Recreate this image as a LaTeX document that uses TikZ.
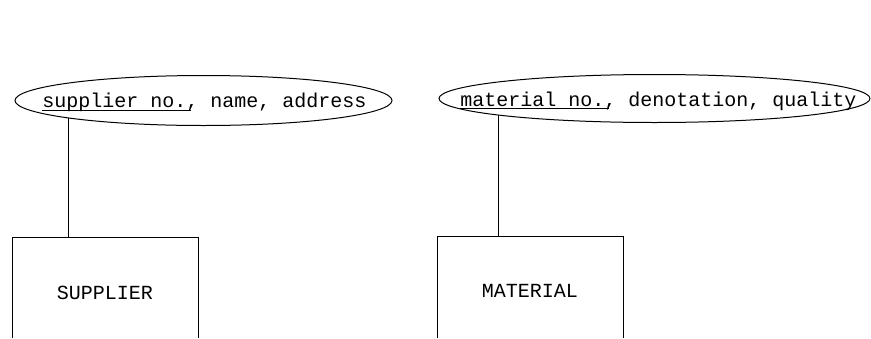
\documentclass[tikz,border=0pt]{standalone}
\usepackage{fontspec}
\newfontfamily\plotfont{Liberation Mono}
\usetikzlibrary{shapes.geometric}
\newcommand\keyul[1]{\rlap{\rule[-3.2pt]{149pt}{0.9pt}}#1}
\tikzset{
  attr/.style={draw, ellipse, inner sep=0pt, line width=1pt},
  lbl/.style={inner sep=0pt, font=\plotfont\fontsize{20}{24}\selectfont},
  edge/.style={line width=1pt},
}
\begin{document}
\begin{tikzpicture}[x=1pt,y=-1pt]
\useasboundingbox (0,0) rectangle (871,338);
% attribute ellipses
\node[attr, minimum width=377pt, minimum height=50pt] (e1) at (203.5,100.5) {};
\node[attr, minimum width=431pt, minimum height=48pt] (e2) at (654.5,98.5) {};
\node[lbl, anchor=base] (t1) at (204.5,107.5) {\keyul{supplier no.,} name, address};
\node[lbl, anchor=base] (t2) at (658.5,106) {\keyul{material no.,} denotation, quality};
% entity boxes (cut off at bottom)
\coordinate (b1tl) at (12,237);
\coordinate (b1tr) at (198,237);
\coordinate (b1top) at (68,237);
\coordinate (b2tl) at (437,236);
\coordinate (b2tr) at (623,236);
\coordinate (b2top) at (498,236);
\draw[edge] (12,338) -- (b1tl) -- (b1tr) -- (198,338);
\draw[edge] (437,338) -- (b2tl) -- (b2tr) -- (623,338);
\node[lbl] (s) at (105,293) {SUPPLIER};
\node[lbl] (m) at (530,291) {MATERIAL};
% connectors
\draw[edge] (b1top) -- (b1top |- e1.187.3);
\draw[edge] (b2top) -- (b2top |- e2.186);
\end{tikzpicture}
\end{document}
